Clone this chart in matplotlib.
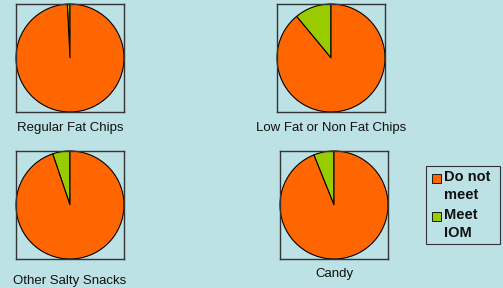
import matplotlib
matplotlib.use("Agg")
import matplotlib.pyplot as plt
from matplotlib.patches import Rectangle

categories = ["Regular Fat Chips", "Low Fat or Non Fat Chips", "Other Salty Snacks", "Candy"]
meet_iom = [0.8, 11.0, 5.2, 6.1]
do_not_meet = [100 - v for v in meet_iom]
series_labels = ["Do not\nmeet", "Meet\nIOM"]

BG = "#BDE2E5"
ORANGE = "#FF6600"
GREEN = "#99CC00"

plt.rcParams['font.family'] = ['Liberation Sans', 'DejaVu Sans']

W, H = 503, 288
fig = plt.figure(figsize=(W / 100, H / 100), dpi=100, facecolor=BG)

# box positions in pixels: (left, top, size)
boxes = [(16, 4, 108), (277, 4, 108), (16, 151, 108), (280, 151, 108)]
label_y = [128, 128, 281, 274]

for i, (l, t, s) in enumerate(boxes):
    ax = fig.add_axes([l / W, 1 - (t + s) / H, s / W, s / H])
    ax.pie([meet_iom[i], do_not_meet[i]], colors=[GREEN, ORANGE],
           startangle=90, counterclock=True, radius=1.0,
           wedgeprops=dict(edgecolor="black", linewidth=0.8))
    ax.set_axis_on()
    ax.set_frame_on(True)
    ax.set_facecolor(BG)
    ax.set_xlim(-1.0, 1.0)
    ax.set_ylim(-1.0, 1.0)
    ax.set_aspect('auto')
    ax.set_xticks([])
    ax.set_yticks([])
    for sp in ax.spines.values():
        sp.set_visible(True)
        sp.set_color("#333333")
        sp.set_linewidth(1.0)
    fig.text((l + s / 2) / W, 1 - label_y[i] / H, categories[i],
             ha="center", va="center", fontsize=9.5, color="#111111")

# legend
lx, ly, lw, lh = 426, 166, 74, 78
fig.patches.append(Rectangle((lx / W, 1 - (ly + lh) / H), lw / W, lh / H,
                             transform=fig.transFigure, facecolor=BG,
                             edgecolor="#333333", linewidth=0.8))
entries = [(ORANGE, series_labels[0], 178), (GREEN, series_labels[1], 216)]
for color, text, y in entries:
    fig.patches.append(Rectangle((432 / W, 1 - (y + 5) / H), 9 / W, 9 / H,
                                 transform=fig.transFigure, facecolor=color,
                                 edgecolor="black", linewidth=0.6))
    fig.text(444 / W, 1 - (y - 8) / H, text, ha="left", va="top",
             fontsize=10.5, fontweight="bold", color="#111111", linespacing=1.4)

fig.savefig("out.png", dpi=100, facecolor=BG)
